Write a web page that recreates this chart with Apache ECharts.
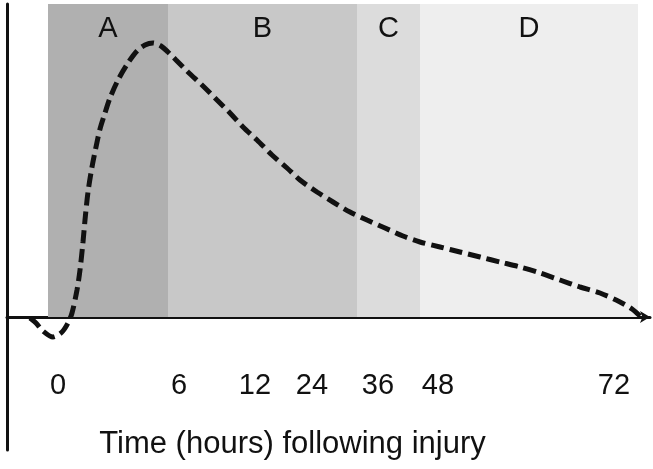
<!DOCTYPE html>
<html>
<head>
<meta charset="utf-8">
<style>
  html, body { margin: 0; padding: 0; background: #fff; }
  #chart { width: 653px; height: 469px; }
</style>
<script src="https://cdn.jsdelivr.net/npm/echarts@6/dist/echarts.min.js"></script>
</head>
<body>
<div id="chart"></div>
<script>
// curve (x along the time axis, y above the baseline)
const curveX = [30, 36, 43, 53, 62, 68, 72, 77, 80, 83, 85, 88, 92, 96, 100, 105, 110, 118, 128, 137, 145, 153, 161, 168, 176, 188, 203, 217, 230, 243, 257, 272, 287, 300, 317, 333, 350, 367, 385, 403, 420, 440, 460, 480, 500, 520, 540, 560, 580, 600, 620, 632, 640];
const curveY = [-1, -6, -14, -20, -15, -6, 4, 27, 47, 75, 97, 125, 150, 170, 188, 204, 219, 237, 254, 266, 272, 274, 271, 265, 257, 245, 231, 217, 204, 190, 177, 162, 149, 137, 125, 115, 105, 97, 89, 81, 75, 70, 65, 60, 55, 50, 44, 37, 30, 24, 15, 8, 1];

// time ticks (non-linear spacing as in the figure)
const tickPos = [58, 179, 255, 312, 378, 438, 614];
const tickLabels = ['0', '6', '12', '24', '36', '48', '72'];

// phases
const bandNames = ['A', 'B', 'C', 'D'];
const bandStart = [48, 168, 357, 420];
const bandEnd = [168, 357, 420, 638];

const bandColors = ['#b0b0b0', '#c8c8c8', '#dcdcdc', '#eeeeee'];
const yTop = 313;
const yBottom = -133;

const getOption = () => {
    const areas = bandNames.map((n, i) => [
        { name: n, xAxis: bandStart[i], yAxis: 0, itemStyle: { color: bandColors[i] } },
        { xAxis: bandEnd[i], yAxis: yTop }
    ]);
    return {
        animation: false,
        grid: { left: 7, right: 3, top: 4, bottom: 19, containLabel: false, outerBoundsMode: 'none' },
        xAxis: {
            type: 'value',
            min: 7,
            max: 650,
            name: 'Time (hours) following injury',
            nameLocation: 'middle',
            nameGap: -21,
            nameTextStyle: {
                color: '#111',
                fontFamily: 'Liberation Sans',
                fontSize: 31,
                padding: [0, 72, 0, 0]
            },
            axisLine: {
                onZero: true,
                symbol: ['none', 'arrow'],
                symbolSize: [9, 10],
                lineStyle: { color: '#111', width: 3 }
            },
            axisTick: { show: false },
            splitLine: { show: false },
            axisLabel: {
                customValues: tickPos,
                formatter: (v) => tickLabels[tickPos.indexOf(v)],
                margin: -79,
                color: '#111',
                fontFamily: 'Liberation Sans',
                fontSize: 29
            }
        },
        yAxis: {
            type: 'value',
            min: yBottom,
            max: yTop,
            axisLine: {
                show: true,
                onZero: false,
                lineStyle: { color: '#111', width: 3 }
            },
            axisTick: { show: false },
            axisLabel: { show: false },
            splitLine: { show: false }
        },
        series: [
            {
                type: 'line',
                data: curveX.map((x, i) => [x, curveY[i]]),
                smooth: 0.3,
                showSymbol: false,
                z: 5,
                lineStyle: { color: '#111', width: 5, type: [13, 6] },
                markArea: {
                    silent: true,
                    label: {
                        position: 'insideTop',
                        distance: 10,
                        color: '#111',
                        fontFamily: 'Liberation Sans',
                        fontSize: 29
                    },
                    data: areas
                }
            }
        ]
    };
};

window.addEventListener('load', () => {
    const chart = echarts.init(document.getElementById('chart'));
    chart.setOption(getOption());
});
</script>
</body>
</html>
